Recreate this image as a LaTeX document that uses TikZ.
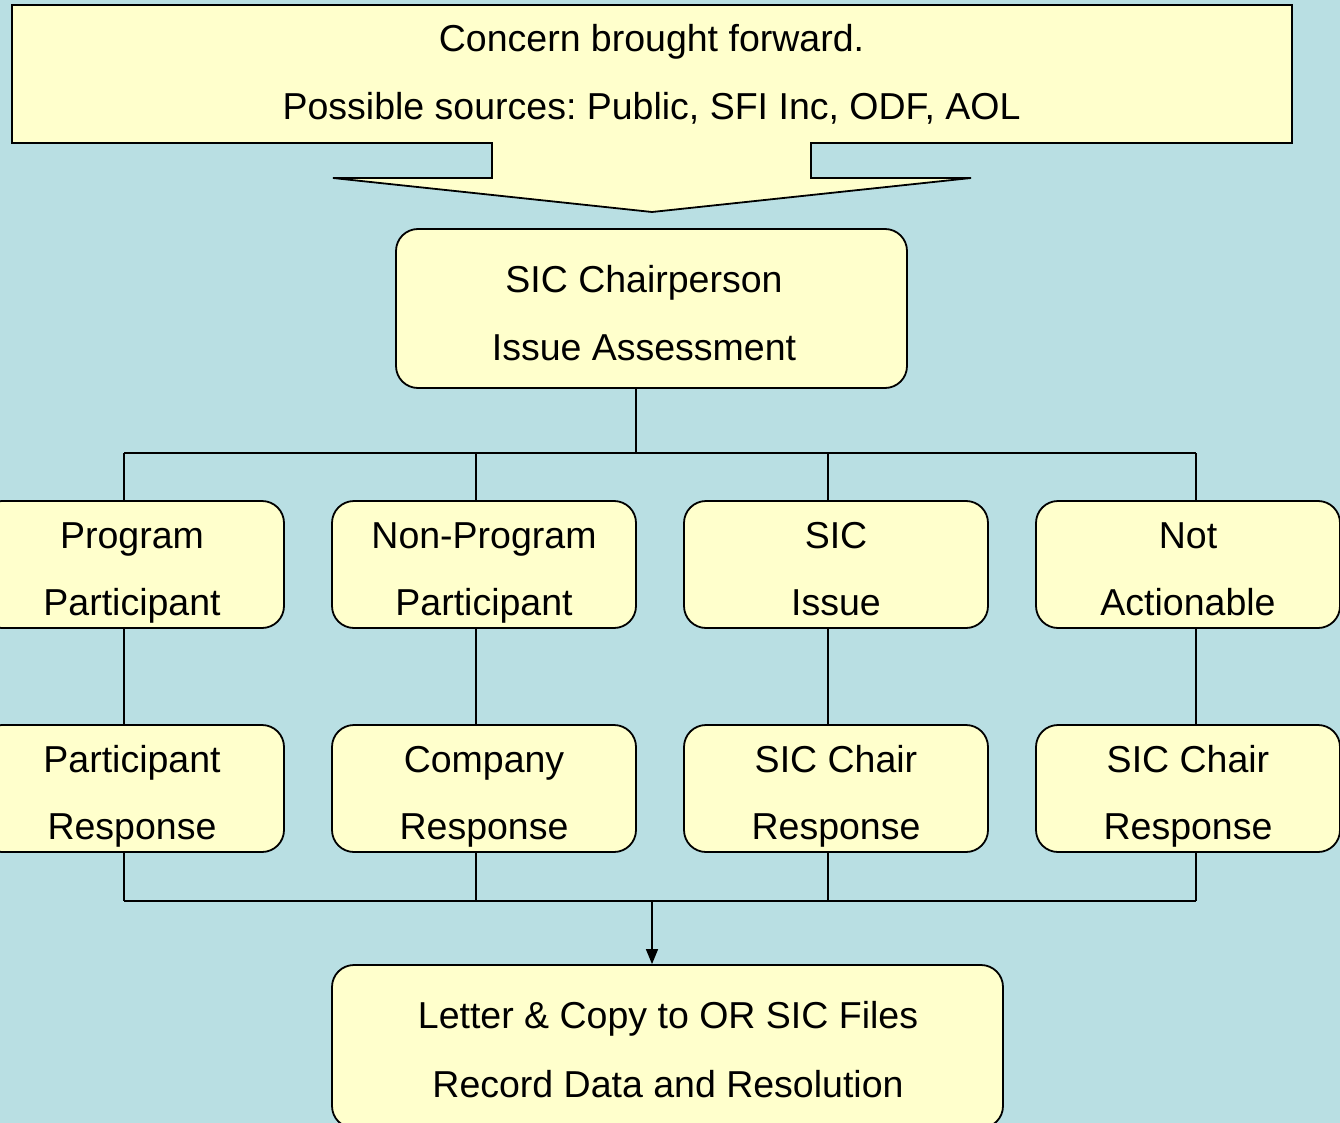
\documentclass[tikz,border=0pt]{standalone}
\usepackage{fontspec}
\setmainfont{Liberation Sans}
\usetikzlibrary{arrows.meta}
\frenchspacing
\definecolor{bgblue}{RGB}{185,223,227}
\definecolor{boxyellow}{RGB}{255,255,204}
\tikzset{
  stepbox/.style={draw=black, line width=1.8pt, fill=boxyellow, rounded corners=22pt, inner sep=0pt},
  txt/.style={anchor=base, inner sep=0pt, font=\fontsize{37.5}{42}\selectfont},
  conn/.style={draw=black, line width=1.4pt},
}
\begin{document}
\begin{tikzpicture}[x=1pt,y=-1pt]
\useasboundingbox (0,0) rectangle (1340,1123);
\fill[bgblue] (0,0) rectangle (1340,1123);

% top callout
\draw[line width=1.8pt, fill=boxyellow, line join=miter]
  (12,5) -- (1292,5) -- (1292,143) -- (811,143) -- (811,178) -- (971,178)
  -- (652,212) -- (333,178) -- (492,178) -- (492,143) -- (12,143) -- cycle;
\node[txt] (topA) at (651.5,52) {Concern brought forward.};
\node[txt] (topB) at (651.5,120) {Possible sources: Public, SFI Inc, ODF, AOL};

% chair box
\node[stepbox, minimum width=511pt, minimum height=159pt] (chair) at (651.5,308.5) {};
\node[txt] (chairA) at (644,292) {SIC Chairperson};
\node[txt] (chairB) at (644,360) {Issue Assessment};

% row 1
\node[stepbox, minimum width=304pt, minimum height=127pt] (pp) at (132,564.5) {};
\node[stepbox, minimum width=304pt, minimum height=127pt] (np) at (484,564.5) {};
\node[stepbox, minimum width=304pt, minimum height=127pt] (si) at (836,564.5) {};
\node[stepbox, minimum width=304pt, minimum height=127pt] (na) at (1188,564.5) {};
\node[txt] (ppA) at (132,548) {Program};
\node[txt] (ppB) at (132,615) {Participant};
\node[txt] (npA) at (484,548) {Non-Program};
\node[txt] (npB) at (484,615) {Participant};
\node[txt] (siA) at (836,548) {SIC};
\node[txt] (siB) at (836,615) {Issue};
\node[txt] (naA) at (1188,548) {Not};
\node[txt] (naB) at (1188,615) {Actionable};

% row 2
\node[stepbox, minimum width=304pt, minimum height=127pt] (pr) at (132,788.5) {};
\node[stepbox, minimum width=304pt, minimum height=127pt] (cr) at (484,788.5) {};
\node[stepbox, minimum width=304pt, minimum height=127pt] (sr) at (836,788.5) {};
\node[stepbox, minimum width=304pt, minimum height=127pt] (nr) at (1188,788.5) {};
\node[txt] (prA) at (132,772) {Participant};
\node[txt] (prB) at (132,839) {Response};
\node[txt] (crA) at (484,772) {Company};
\node[txt] (crB) at (484,839) {Response};
\node[txt] (srA) at (836,772) {SIC Chair};
\node[txt] (srB) at (836,839) {Response};
\node[txt] (nrA) at (1188,772) {SIC Chair};
\node[txt] (nrB) at (1188,839) {Response};

% bottom box
\node[stepbox, minimum width=671pt, minimum height=163pt] (fin) at (667.5,1046.5) {};
\node[txt] (finA) at (668,1028) {Letter \& Copy to OR SIC Files};
\node[txt] (finB) at (668,1097) {Record Data and Resolution};

% junction coordinates
\coordinate (hub) at (636,453);
\coordinate (busL) at (124,453);
\coordinate (busR) at (1196,453);
\coordinate (xa) at (124,453);
\coordinate (xb) at (476,453);
\coordinate (xc) at (828,453);
\coordinate (xd) at (1196,453);
\coordinate (low) at (652,901);

% connectors
\draw[conn] (chair.south -| hub) -- (hub);
\draw[conn] (busL) -- (busR);
\draw[conn] (xa) -- (xa |- pp.north);
\draw[conn] (xb) -- (xb |- np.north);
\draw[conn] (xc) -- (xc |- si.north);
\draw[conn] (xd) -- (xd |- na.north);
\draw[conn] (xa |- pp.south) -- (xa |- pr.north);
\draw[conn] (xb |- np.south) -- (xb |- cr.north);
\draw[conn] (xc |- si.south) -- (xc |- sr.north);
\draw[conn] (xd |- na.south) -- (xd |- nr.north);
\draw[conn] (xa |- pr.south) -- (xa |- low);
\draw[conn] (xb |- cr.south) -- (xb |- low);
\draw[conn] (xc |- sr.south) -- (xc |- low);
\draw[conn] (xd |- nr.south) -- (xd |- low);
\draw[conn] (xa |- low) -- (xd |- low);
\draw[conn, -{Triangle[length=15pt,width=12pt]}] (low) -- (low |- fin.north);
\end{tikzpicture}
\end{document}
